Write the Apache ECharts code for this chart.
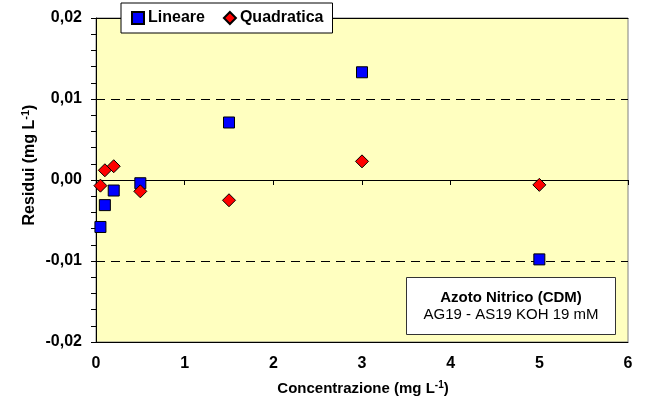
<!DOCTYPE html>
<html>
<head>
<meta charset="utf-8">
<script src="https://cdn.jsdelivr.net/npm/echarts@6/dist/echarts.min.js"></script>
<style>
  html, body { margin: 0; padding: 0; background: #fff; }
  #chart { width: 649px; height: 401px; }
</style>
</head>
<body>
<div id="chart"></div>
<script>
// Concentrations of the calibration standards (mg L-1)
const concentrations = [0.05, 0.1, 0.2, 0.5, 1.5, 3, 5];
// Residuals of the linear fit (mg L-1)
const residuiLineare = [-0.0058, -0.0031, -0.0013, -0.0004, 0.0071, 0.0133, -0.0098];
// Residuals of the quadratic fit (mg L-1)
const residuiQuadratica = [-0.0007, 0.0012, 0.0017, -0.0014, -0.0025, 0.0023, -0.0006];

const seriesNames = ['Lineare', 'Quadratica'];
const xTitle = ['Concentrazione (mg L', '-1', ')'];
const yTitle = ['Residui (mg L', '-1', ')'];
const boxLines = ['Azoto Nitrico (CDM)', 'AG19 - AS19 KOH 19 mM'];

const FONT = '"Liberation Sans", Arial, sans-serif';

function pairs(xs, ys) {
  return xs.map((x, i) => [x, ys[i]]);
}
function comma(v) {
  return v.toFixed(2).replace('.', ',');
}
function titleRich(size) {
  return {
    b: { fontFamily: FONT, fontWeight: 'bold', fontSize: size, color: '#000', lineHeight: size + 3 },
    s: { fontFamily: FONT, fontWeight: 'bold', fontSize: Math.round(size * 0.66), color: '#000', verticalAlign: 'top', lineHeight: size + 3 }
  };
}
function titleText(parts) {
  return '{b|' + parts[0] + '}{s|' + parts[1] + '}{b|' + parts[2] + '}';
}

const chart = echarts.init(document.getElementById('chart'), null, { renderer: 'canvas' });

chart.setOption({
  animation: false,
  backgroundColor: '#ffffff',
  grid: {
    left: 96, right: 21, top: 18, bottom: 59,
    show: true,
    backgroundColor: '#FFFFC0',
    borderColor: '#808080',
    borderWidth: 1
  },
  legend: {
    data: seriesNames,
    left: 121, top: 3,
    orient: 'horizontal',
    backgroundColor: '#ffffff',
    borderColor: '#000000',
    borderWidth: 1,
    borderRadius: 0,
    padding: [7, 9, 7, 10],
    itemWidth: 12, itemHeight: 12,
    itemGap: 18,
    textStyle: { fontFamily: FONT, fontWeight: 'bold', fontSize: 16, color: '#000', padding: [0, 0, 0, -1] }
  },
  xAxis: [
    {
      // bottom border carrying the tick labels
      type: 'value', min: 0, max: 6, interval: 1,
      position: 'bottom',
      axisLine: { onZero: false, lineStyle: { color: '#000', width: 1 } },
      axisTick: { show: false },
      splitLine: { show: false },
      axisLabel: { fontFamily: FONT, fontWeight: 'bold', fontSize: 16, color: '#000', margin: 14 }
    },
    {
      // axis line crossing at zero residual, with the ticks
      type: 'value', min: 0, max: 6, interval: 1,
      position: 'bottom',
      axisLine: { onZero: true, lineStyle: { color: '#000', width: 1 } },
      axisTick: { show: true, length: 5, lineStyle: { color: '#000' } },
      splitLine: { show: false },
      axisLabel: { show: false }
    },
    {
      // top border
      type: 'value', min: 0, max: 6, interval: 1,
      position: 'top',
      axisLine: { onZero: false, lineStyle: { color: '#000', width: 1 } },
      axisTick: { show: false },
      splitLine: { show: false },
      axisLabel: { show: false }
    }
  ],
  yAxis: {
    type: 'value', min: -0.02, max: 0.02, interval: 0.01,
    axisLine: { show: true, onZero: false, lineStyle: { color: '#000', width: 1 } },
    axisTick: { show: true, length: 5, lineStyle: { color: '#000' } },
    minorTick: { show: true, splitNumber: 5, length: 5, lineStyle: { color: '#000' } },
    splitLine: { show: true, lineStyle: { color: '#000', width: 1, type: [9, 6] } },
    axisLabel: {
      fontFamily: FONT, fontWeight: 'bold', fontSize: 16, color: '#000', margin: 14,
      formatter: comma
    }
  },
  series: [
    {
      name: seriesNames[0],
      type: 'scatter',
      xAxisIndex: 0,
      symbol: 'rect',
      symbolSize: 11,
      itemStyle: { color: '#0000FF', borderColor: '#000', borderWidth: 1, opacity: 1 },
      data: pairs(concentrations, residuiLineare)
    },
    {
      name: seriesNames[1],
      type: 'scatter',
      xAxisIndex: 0,
      symbol: 'diamond',
      symbolSize: 13,
      itemStyle: { color: '#FF0000', borderColor: '#000', borderWidth: 1, opacity: 1 },
      data: pairs(concentrations, residuiQuadratica)
    }
  ],
  graphic: [
    {
      type: 'text',
      x: 363, y: 389,
      style: { text: titleText(xTitle), rich: titleRich(15), align: 'center', verticalAlign: 'middle' }
    },
    {
      type: 'text',
      x: 30, y: 165,
      rotation: Math.PI / 2,
      style: { text: titleText(yTitle), rich: titleRich(16), align: 'center', verticalAlign: 'middle' }
    },
    {
      type: 'group',
      left: 406, top: 277,
      children: [
        {
          type: 'rect',
          shape: { x: 0, y: 0, width: 209, height: 57 },
          style: { fill: '#ffffff', stroke: '#333333', lineWidth: 1 }
        },
        {
          type: 'text',
          x: 104.5, y: 20,
          style: { text: boxLines[0], fontFamily: FONT, fontWeight: 'bold', fontSize: 15, fill: '#000', align: 'center', verticalAlign: 'middle' }
        },
        {
          type: 'text',
          x: 104.5, y: 37,
          style: { text: boxLines[1], fontFamily: FONT, fontSize: 15, fill: '#000', align: 'center', verticalAlign: 'middle' }
        }
      ]
    }
  ]
});
</script>
</body>
</html>
